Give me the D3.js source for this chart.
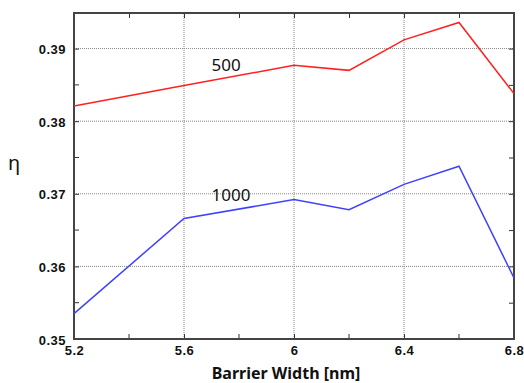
<!DOCTYPE html>
<html>
<head>
<meta charset="utf-8">
<script src="https://cdn.jsdelivr.net/npm/d3@7"></script>
<style>
  body { margin: 0; background: #fff; }
</style>
</head>
<body>
<script>
// barrier width [nm]
const widths = [5.2, 5.6, 6.0, 6.2, 6.4, 6.6, 6.8];
const eta500 = [0.3821, 0.3849, 0.3877, 0.3870, 0.3912, 0.3936, 0.3838];
const eta1000 = [0.3535, 0.3666, 0.3692, 0.3678, 0.3713, 0.3738, 0.3584];
const xTicks = [5.2, 5.6, 6, 6.4, 6.8];
const xMinor = [5.4, 5.8, 6.2, 6.6];
const yTicks = [0.35, 0.36, 0.37, 0.38, 0.39];
const yMinor = [0.355, 0.365, 0.375, 0.385];

const width = 524, height = 383;
const margin = { top: 13, right: 10, bottom: 44, left: 74 };

const svg = d3.select('body').append('svg')
  .attr('width', width)
  .attr('height', height);

const x = d3.scaleLinear().domain([5.2, 6.8]).range([margin.left, width - margin.right]);
const y = d3.scaleLinear().domain([0.35, 0.3949]).range([height - margin.bottom, margin.top]);

// grid
const grid = svg.append('g')
  .attr('stroke', '#888')
  .attr('stroke-width', 1)
  .attr('stroke-dasharray', '1,1');
grid.selectAll('.gx')
  .data(xTicks.slice(1, -1))
  .join('line')
  .attr('class', 'gx')
  .attr('x1', d => x(d)).attr('x2', d => x(d))
  .attr('y1', y.range()[0]).attr('y2', y.range()[1]);
grid.selectAll('.gy')
  .data(yTicks.slice(1))
  .join('line')
  .attr('class', 'gy')
  .attr('y1', d => y(d)).attr('y2', d => y(d))
  .attr('x1', x.range()[0]).attr('x2', x.range()[1]);

// axes (ticks inward on all four sides)
const tickFont = 'bold 13px "Liberation Sans", Arial, sans-serif';
const axBottom = svg.append('g')
  .attr('transform', `translate(0,${y.range()[0]})`)
  .call(d3.axisBottom(x).tickValues(xTicks).tickFormat(d3.format('')).tickSizeInner(-5).tickSizeOuter(0).tickPadding(7));
axBottom.append('g').selectAll('line').data(xMinor).join('line')
  .attr('x1', d => x(d)).attr('x2', d => x(d)).attr('y1', 0).attr('y2', -5);

const axTop = svg.append('g')
  .attr('transform', `translate(0,${y.range()[1]})`)
  .call(d3.axisTop(x).tickValues(xTicks.concat(xMinor)).tickFormat('').tickSizeInner(-5).tickSizeOuter(0));

const axLeft = svg.append('g')
  .attr('transform', `translate(${x.range()[0]},0)`)
  .call(d3.axisLeft(y).tickValues(yTicks).tickFormat(d3.format('.2f')).tickSizeInner(-5).tickSizeOuter(0).tickPadding(8));
axLeft.append('g').selectAll('line').data(yMinor).join('line')
  .attr('y1', d => y(d)).attr('y2', d => y(d)).attr('x1', 0).attr('x2', 5);

const axRight = svg.append('g')
  .attr('transform', `translate(${x.range()[1]},0)`)
  .call(d3.axisRight(y).tickValues(yTicks.concat(yMinor)).tickFormat('').tickSizeInner(-5).tickSizeOuter(0));

[axBottom, axTop, axLeft, axRight].forEach(g => {
  g.select('.domain').remove();
  g.selectAll('line').attr('stroke', '#333');
  g.selectAll('text').style('font', tickFont).attr('fill', '#111').style('letter-spacing', '0.5px');
});
axLeft.selectAll('text').attr('dy', '0.4em');
axBottom.selectAll('text').attr('dy', '0.7em');

// frame
svg.append('rect')
  .attr('x', x.range()[0]).attr('y', y.range()[1])
  .attr('width', x.range()[1] - x.range()[0])
  .attr('height', y.range()[0] - y.range()[1])
  .attr('fill', 'none')
  .attr('stroke', '#444')
  .attr('stroke-width', 2);

// lines
const line = d3.line().x((d, i) => x(widths[i])).y(d => y(d));
svg.append('path').datum(eta500)
  .attr('d', line).attr('fill', 'none').attr('stroke', '#ff2020').attr('stroke-width', 1.5);
svg.append('path').datum(eta1000)
  .attr('d', line).attr('fill', 'none').attr('stroke', '#4040ff').attr('stroke-width', 1.5);

// series labels
svg.append('text').attr('x', x(5.7)).attr('y', 71)
  .style('font', '17px "Noto Sans", "Open Sans", sans-serif').attr('fill', '#111').text('500');
svg.append('text').attr('x', x(5.7)).attr('y', 201)
  .style('font', '17px "Noto Sans", "Open Sans", sans-serif').attr('fill', '#111').text('1000');

// axis titles
svg.append('text').attr('x', 286).attr('y', 379).attr('text-anchor', 'middle')
  .style('font', 'bold 16px "Noto Sans", "Open Sans", sans-serif').attr('fill', '#111')
  .text('Barrier Width [nm]');
svg.append('text').attr('x', 14).attr('y', 170).attr('text-anchor', 'middle')
  .style('font', '20px "Noto Sans", sans-serif').attr('fill', '#111')
  .text('η');
</script>
</body>
</html>
